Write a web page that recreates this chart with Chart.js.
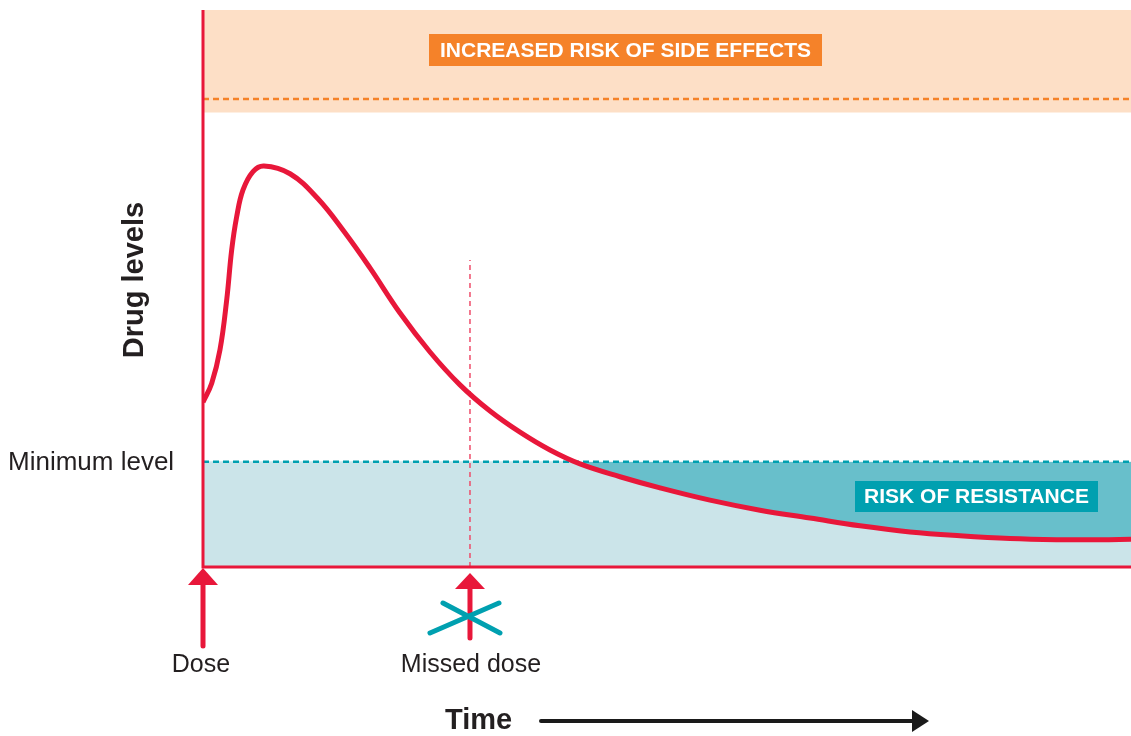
<!DOCTYPE html>
<html>
<head>
<meta charset="utf-8">
<title>Drug levels over time</title>
<script src="https://cdn.jsdelivr.net/npm/chart.js@4.4.1/dist/chart.umd.min.js"></script>
<style>
    body { margin: 0; background: #ffffff; }
    canvas { display: block; }
</style>
</head>
<body>
<canvas id="chart" width="1131" height="736"></canvas>
<script>
// time axis runs 0..100, drug level axis runs 0..100
const timeX = [0, 0.94, 1.83, 2.55, 3.09, 3.63, 4.31, 5.39, 6.57, 9.38, 12.39, 15.3, 17.99, 21.23, 24.46, 27.69, 30.93, 34.16, 37.39, 40.63, 44.94, 49.25, 54.63, 60.02, 65.41, 70.8, 76.19, 81.57, 86.96, 92.35, 96.66, 100];
const drugLevel = [29.6, 33.0, 39.0, 47.9, 56.9, 62.9, 67.7, 71.0, 72.0, 70.6, 66.1, 60.0, 53.7, 45.6, 38.6, 32.7, 28.0, 24.2, 21.0, 18.5, 16.2, 14.2, 12.0, 10.2, 8.8, 7.4, 6.3, 5.6, 5.1, 4.9, 4.9, 5.0];
const minimumLevel = 18.9;
const sideEffectBandBottom = 81.6;
const sideEffectLevel = 84.0;
const doseTimes = [0, 28.77];
const doseLabels = ['Dose', 'Missed dose'];
const missedDoseLineTop = 55.1;

const RED = '#E8173A';
const TEAL = '#00A0B0';
const ORANGE = '#F58229';
const TEXT = '#231F20';

function flat(level) {
    return [{ x: 0, y: level }, { x: 100, y: level }];
}

function drawArrowUp(ctx, x, tipY, baseY, endY) {
    ctx.fillStyle = RED;
    ctx.beginPath();
    ctx.moveTo(x, tipY);
    ctx.lineTo(x + 15, baseY);
    ctx.lineTo(x - 15, baseY);
    ctx.closePath();
    ctx.fill();
    ctx.strokeStyle = RED;
    ctx.lineWidth = 5;
    ctx.lineCap = 'round';
    ctx.beginPath();
    ctx.moveTo(x, baseY - 1);
    ctx.lineTo(x, endY);
    ctx.stroke();
}

function labelBox(ctx, text, x, y, w, h, bg) {
    ctx.fillStyle = bg;
    ctx.fillRect(x, y, w, h);
    ctx.fillStyle = '#ffffff';
    ctx.font = 'bold 21px "Liberation Sans", Arial, sans-serif';
    ctx.textAlign = 'center';
    ctx.textBaseline = 'middle';
    ctx.fillText(text, x + w / 2, y + h / 2 + 1);
}

const decorations = {
    id: 'decorations',
    afterDatasetsDraw(chart) {
        const ctx = chart.ctx;
        const a = chart.chartArea;
        ctx.save();
        ctx.strokeStyle = RED;
        ctx.lineWidth = 3;
        ctx.beginPath();
        ctx.moveTo(a.left, a.top);
        ctx.lineTo(a.left, a.bottom);
        ctx.lineTo(a.right, a.bottom);
        ctx.stroke();
        ctx.restore();
    },
    afterDraw(chart) {
        const ctx = chart.ctx;
        const xs = chart.scales.x;
        const a = chart.chartArea;
        ctx.save();

        labelBox(ctx, 'INCREASED RISK OF SIDE EFFECTS', 429, 34, 393, 32, ORANGE);
        labelBox(ctx, 'RISK OF RESISTANCE', 855, 481, 243, 31, TEAL);

        // dose arrows
        const doseX = xs.getPixelForValue(doseTimes[0]);
        const missX = xs.getPixelForValue(doseTimes[1]);
        drawArrowUp(ctx, doseX, a.bottom + 1, a.bottom + 18, 646);
        drawArrowUp(ctx, missX, a.bottom + 6, a.bottom + 22, 638);

        // cross over the missed dose
        ctx.strokeStyle = TEAL;
        ctx.lineWidth = 5;
        ctx.lineCap = 'round';
        ctx.beginPath();
        ctx.moveTo(missX - 27, 603);
        ctx.lineTo(missX + 30, 633);
        ctx.moveTo(missX - 40, 633);
        ctx.lineTo(missX + 29, 603);
        ctx.stroke();

        ctx.fillStyle = TEXT;
        ctx.font = '25px "Liberation Sans", Arial, sans-serif';
        ctx.textAlign = 'center';
        ctx.textBaseline = 'alphabetic';
        ctx.fillText(doseLabels[0], doseX - 2, 672);
        ctx.fillText(doseLabels[1], missX + 1, 672);

        ctx.textAlign = 'left';
        ctx.font = '26px "Liberation Sans", Arial, sans-serif';
        ctx.fillText('Minimum level', 8, 470);

        // axis titles
        ctx.font = 'bold 29px "Liberation Sans", Arial, sans-serif';
        ctx.save();
        ctx.translate(143, 280);
        ctx.rotate(-Math.PI / 2);
        ctx.textAlign = 'center';
        ctx.fillText('Drug levels', 0, 0);
        ctx.restore();

        ctx.textAlign = 'left';
        ctx.fillText('Time', 445, 729);
        ctx.strokeStyle = '#1a1a1a';
        ctx.lineWidth = 4;
        ctx.lineCap = 'round';
        ctx.beginPath();
        ctx.moveTo(541, 721);
        ctx.lineTo(914, 721);
        ctx.stroke();
        ctx.fillStyle = '#1a1a1a';
        ctx.beginPath();
        ctx.moveTo(929, 721);
        ctx.lineTo(912, 710);
        ctx.lineTo(912, 732);
        ctx.closePath();
        ctx.fill();

        ctx.restore();
    }
};

new Chart(document.getElementById('chart'), {
    type: 'line',
    data: {
        datasets: [
            {
                label: 'Drug level',
                data: timeX.map((x, i) => ({ x: x, y: drugLevel[i] })),
                borderColor: RED,
                borderWidth: 5,
                pointRadius: 0,
                tension: 0.4,
                fill: { target: 2, above: 'rgba(0,0,0,0)', below: '#68BFCB' },
                order: 1
            },
            {
                label: 'Minimum level line',
                data: flat(minimumLevel),
                borderColor: TEAL,
                borderWidth: 2.5,
                borderDash: [6, 4],
                pointRadius: 0,
                fill: false,
                order: 2
            },
            {
                label: 'Minimum band',
                data: flat(minimumLevel),
                borderWidth: 0,
                borderColor: 'rgba(0,0,0,0)',
                backgroundColor: '#CBE4E9',
                pointRadius: 0,
                fill: 'start',
                order: 5
            },
            {
                label: 'Side effect band',
                data: flat(sideEffectBandBottom),
                borderWidth: 0,
                borderColor: 'rgba(0,0,0,0)',
                backgroundColor: '#FDDFC6',
                pointRadius: 0,
                fill: 'end',
                order: 6
            },
            {
                label: 'Side effect line',
                data: flat(sideEffectLevel),
                borderColor: ORANGE,
                borderWidth: 2.5,
                borderDash: [6, 4],
                pointRadius: 0,
                fill: false,
                order: 3
            },
            {
                label: 'Missed dose line',
                data: [{ x: doseTimes[1], y: 0 }, { x: doseTimes[1], y: missedDoseLineTop }],
                borderColor: '#EF4C6A',
                borderWidth: 1.5,
                borderDash: [5, 4],
                pointRadius: 0,
                fill: false,
                order: 4
            }
        ]
    },
    options: {
        responsive: false,
        animation: false,
        layout: { padding: { left: 203, right: 0, top: 10, bottom: 169 } },
        scales: {
            x: { type: 'linear', min: 0, max: 100, display: false },
            y: { type: 'linear', min: 0, max: 100, display: false }
        },
        plugins: {
            legend: { display: false },
            tooltip: { enabled: false },
            filler: { drawTime: 'beforeDatasetsDraw' }
        }
    },
    plugins: [decorations]
});
</script>
</body>
</html>
